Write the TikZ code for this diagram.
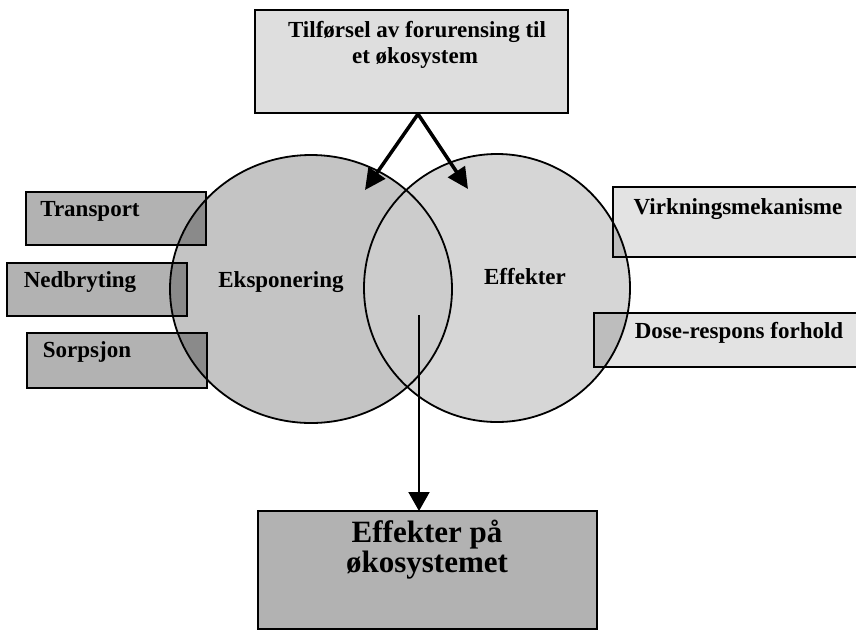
\documentclass[tikz,border=0pt]{standalone}
\usepackage{fontspec}
\setmainfont{Liberation Serif}
\usetikzlibrary{arrows.meta,shapes.geometric}
\definecolor{topfill}{gray}{0.87}
\definecolor{lboxfill}{gray}{0.70}
\definecolor{lboxdark}{gray}{0.54}
\definecolor{lcirc}{gray}{0.77}
\definecolor{rcirc}{gray}{0.84}
\definecolor{ovlfill}{gray}{0.80}
\definecolor{rboxfill}{gray}{0.89}
\definecolor{rboxdark}{gray}{0.74}
\definecolor{botfill}{gray}{0.70}
\tikzset{
  boxbase/.style={rectangle, inner sep=0pt, outer sep=0pt},
  circbase/.style={ellipse, inner sep=0pt, outer sep=0pt},
  outline/.style={line width=1.8pt, black},
  lbl/.style={font=\bfseries\fontsize{23}{26}\selectfont, anchor=base, inner sep=0pt},
  biglbl/.style={font=\bfseries\fontsize{31}{30}\selectfont, anchor=base, inner sep=0pt},
  thickarrow/.style={line width=3.5pt, -{Triangle[length=21pt,width=20pt]}},
  thinarrow/.style={line width=2pt, -{Triangle[length=19pt,width=21pt]}}
}
\begin{document}
\begin{tikzpicture}[x=1pt,y=-1pt]
\useasboundingbox (0,0) rectangle (856,633);
% circles
\node[circbase, minimum width=282pt, minimum height=268pt, fill=lcirc] (L) at (311,289) {};
\node[circbase, minimum width=266pt, minimum height=268pt, fill=rcirc] (R) at (497,288) {};
\begin{scope}
  \clip (L.center) ellipse [x radius=141, y radius=134];
  \fill[ovlfill] (R.center) ellipse [x radius=133, y radius=134];
\end{scope}
% boxes
\node[boxbase, minimum width=313pt, minimum height=103pt, fill=topfill] (top) at (411.5,61.5) {};
\node[boxbase, minimum width=339pt, minimum height=118pt, fill=botfill] (bot) at (427.5,570) {};
\node[boxbase, minimum width=180pt, minimum height=53pt, fill=lboxfill] (transport) at (116,218.5) {};
\node[boxbase, minimum width=180pt, minimum height=53pt, fill=lboxfill] (nedbryting) at (97,289.5) {};
\node[boxbase, minimum width=180pt, minimum height=55pt, fill=lboxfill] (sorpsjon) at (117,360.5) {};
\node[boxbase, minimum width=247pt, minimum height=70pt, fill=rboxfill] (virk) at (736.5,222) {};
\node[boxbase, minimum width=266pt, minimum height=54pt, fill=rboxfill] (dose) at (727,340) {};
% darker overlaps of boxes with circles
\foreach \b in {transport,nedbryting,sorpsjon}{
  \begin{scope}
    \clip (\b.north west) rectangle (\b.south east);
    \fill[lboxdark] (L.center) ellipse [x radius=141, y radius=134];
  \end{scope}
}
\foreach \b in {virk,dose}{
  \begin{scope}
    \clip (\b.north west) rectangle (\b.south east);
    \fill[rboxdark] (R.center) ellipse [x radius=133, y radius=134];
  \end{scope}
}
% outlines
\foreach \b in {top,bot,transport,nedbryting,sorpsjon,virk,dose}{
  \draw[outline] (\b.north west) rectangle (\b.south east);
}
\draw[outline] (L.center) ellipse [x radius=141, y radius=134];
\draw[outline] (R.center) ellipse [x radius=133, y radius=134];
% texts
\node[lbl] (t1) at (417,37) {Tilførsel av forurensing til};
\node[lbl] (t2) at (415,63) {et økosystem};
\node[lbl] (ttransport) at (90,216) {Transport};
\node[lbl] (tned) at (80,287) {Nedbryting};
\node[lbl] (tsorp) at (87,357) {Sorpsjon};
\node[lbl] (tL) at (281,287) {Eksponering};
\node[lbl] (tR) at (525,284) {Effekter};
\node[lbl] (tvirk) at (738,214) {Virkningsmekanisme};
\node[lbl] (tdose) at (739,338) {Dose-respons forhold};
\node[biglbl] (b1) at (427,542) {Effekter på};
\node[biglbl] (b2) at (427,572) {økosystemet};
% arrows
\coordinate (apex) at (418,114);
\coordinate (tipL) at (365,190);
\coordinate (tipR) at (468,189);
\coordinate (start) at (419,315);
\draw[thickarrow] (apex) -- (tipL);
\draw[thickarrow] (apex) -- (tipR);
\draw[thinarrow] (start) -- (bot.north -| start);
\end{tikzpicture}
\end{document}
